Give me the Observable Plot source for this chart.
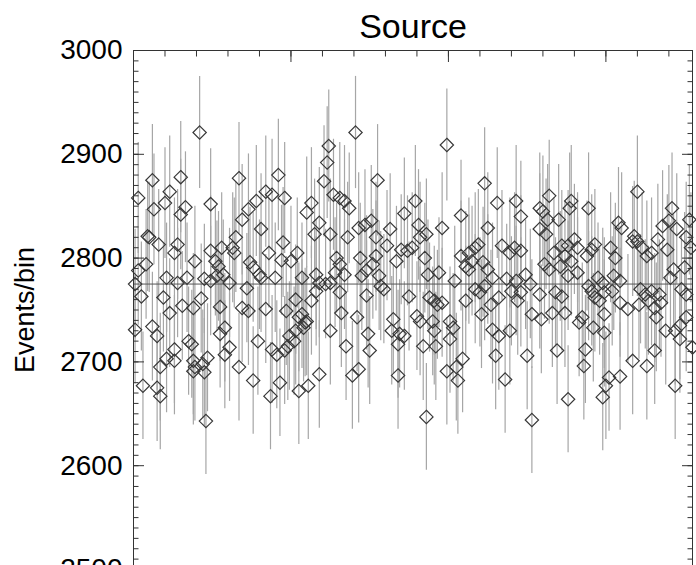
<!DOCTYPE html>
<html>
<head>
<meta charset="utf-8">
<script src="https://cdn.jsdelivr.net/npm/d3@7"></script>
<script src="https://cdn.jsdelivr.net/npm/@observablehq/plot@0.6"></script>
<style>
  html, body { margin: 0; padding: 0; background: #fff; overflow: hidden; }
</style>
</head>
<body>
<div id="chart"></div>
<script>
// Light curve of the source region: counts per time bin with Poisson errors.
const title = "Source";
const yLabel = "Events/bin";

// Bin number of each measurement
const bins = [
  1, 1, 3, 3, 5, 6, 8, 9, 10, 12,
  12, 13, 15, 15, 16, 17, 17, 19, 20, 21,
  21, 23, 23, 26, 26, 26, 28, 28, 30, 30,
  31, 33, 34, 35, 37, 38, 38, 38, 39, 39,
  42, 43, 44, 45, 45, 46, 47, 49, 49, 49,
  52, 53, 54, 55, 55, 56, 57, 58, 58, 61,
  61, 63, 64, 65, 67, 67, 69, 69,
  72, 73, 73, 74, 76, 76, 78, 79, 80, 81,
  81, 84, 84, 86, 87, 88, 88, 90, 91, 92,
  93, 94, 95, 96, 96, 97, 98, 99, 100, 102,
  103, 103, 104, 105, 105, 107, 107, 108, 109, 110,
  110, 111, 113, 113, 115, 116, 116, 118, 118, 118,
  121, 122, 123, 124, 125, 125, 125, 127, 128, 129,
  131, 131, 131, 132, 134, 134, 135, 136, 137, 139,
  141, 142, 143, 143, 144, 145, 147, 148, 148, 149,
  150, 151, 152, 154, 154, 155, 156, 157, 159, 161,
  163, 164, 165, 167, 168, 168, 169, 170, 172, 172,
  174, 175, 177, 179, 180, 181, 182, 182, 184, 185,
  186, 186, 187, 188, 190, 191, 191, 192, 193, 194,
  196, 196, 199, 199, 201, 201, 203, 204, 205, 206,
  208, 208, 209, 211, 211, 213, 213, 215, 217, 217,
  219, 220, 221, 222, 223, 223, 225, 225, 227, 228,
  228, 230, 231, 232, 232, 234, 236, 237, 239, 239,
  240, 242, 243, 243, 244, 246, 246, 246, 249, 250,
  252, 253, 253,
  258, 258, 258, 259, 260, 261, 262, 263, 264, 264,
  266, 267, 268, 269, 270, 271, 272, 272, 274, 274,
  276, 276, 276, 277, 278, 278, 280, 282, 282, 283,
  285, 286, 287, 288, 289, 289, 291, 291, 292, 293,
  293, 295, 296, 298, 298, 299, 299, 299, 300, 302,
  303, 304, 305, 306, 308, 309, 309, 309, 310, 314,
  317, 317, 318, 320, 320, 321, 322, 323, 325, 326,
  326, 327, 329, 329, 331, 331, 332, 333, 334, 335,
  336, 338, 339, 340, 341, 342, 343, 344, 344, 345,
  347, 347, 348, 350, 351, 351, 351, 353, 354, 355
];

// Events counted in each bin (same order as bins)
const counts = [
  2775, 2731, 2858, 2788, 2763, 2677, 2794, 2821, 2820, 2875,
  2734, 2847, 2725, 2675, 2813, 2695, 2667, 2762, 2853, 2781,
  2703, 2864, 2747, 2805, 2712, 2701, 2813, 2776, 2878, 2842,
  2754, 2849, 2781, 2720, 2717, 2752, 2701, 2691, 2797, 2695,
  2921, 2761, 2698, 2780, 2690, 2643, 2704, 2852, 2807, 2778,
  2797, 2783, 2792, 2753, 2727, 2810, 2784, 2733, 2707, 2776,
  2714, 2810, 2805, 2820, 2877, 2695, 2837, 2752,
  2771, 2749, 2847, 2796, 2791, 2682, 2855, 2720, 2784, 2828,
  2781, 2864, 2751, 2805, 2667, 2861, 2712, 2781, 2707, 2880,
  2680, 2798, 2815, 2858, 2711, 2749, 2715, 2725, 2797, 2720,
  2760, 2730, 2805, 2743, 2672, 2781, 2746, 2733, 2738, 2844,
  2739, 2677, 2853, 2759, 2823, 2784, 2768, 2834, 2776, 2688,
  2874, 2775, 2892, 2908, 2823, 2776, 2730, 2861, 2786, 2800,
  2858, 2794, 2767, 2747, 2855, 2784, 2715, 2820, 2848, 2687,
  2921, 2743, 2829, 2693, 2800, 2783, 2832, 2788, 2764, 2727,
  2711, 2836, 2794, 2820, 2802, 2875, 2783, 2773, 2770, 2812,
  2828, 2730, 2741, 2797, 2717, 2687, 2727, 2808, 2843, 2725,
  2807, 2763, 2810, 2855, 2744, 2832, 2820, 2739, 2715, 2800,
  2823, 2647, 2784, 2762, 2739, 2759, 2730, 2715, 2755, 2786,
  2829, 2757, 2909, 2691, 2739, 2722, 2733, 2778, 2695, 2682,
  2841, 2802, 2703, 2792, 2759, 2805, 2789, 2797, 2810, 2770,
  2813, 2767, 2746, 2796, 2872, 2773, 2829, 2789, 2755, 2781,
  2731, 2706, 2853, 2762, 2725, 2812, 2683, 2780, 2805, 2730,
  2768, 2810, 2855, 2778, 2759, 2840, 2807, 2767, 2784, 2706,
  2775, 2746, 2644,
  2848, 2828, 2765, 2741, 2845, 2794, 2823, 2837, 2860, 2789,
  2747, 2805, 2767, 2711, 2837, 2792, 2812, 2763, 2802, 2747,
  2812, 2783, 2664, 2848, 2855, 2797, 2818, 2810, 2786, 2738,
  2743, 2696, 2712, 2802, 2848, 2773, 2808, 2768, 2733, 2813,
  2762, 2781, 2759, 2776, 2666, 2767, 2746, 2728, 2677, 2685,
  2810, 2768, 2783, 2800, 2834, 2778, 2757, 2686, 2829, 2751,
  2701, 2816, 2821, 2864, 2816, 2755, 2770, 2810, 2765, 2802,
  2696, 2759, 2805, 2768, 2752, 2711, 2743, 2818, 2765, 2757,
  2831, 2730, 2808, 2836, 2781, 2848, 2789, 2730, 2677, 2828,
  2735, 2722, 2770, 2791, 2820, 2765, 2743, 2837, 2810, 2714
];

// Mean level of the light curve
const meanLevel = 2775;

// Axis ticks
const binRange = [0, 355];
const yRange = [2500, 3000];
const yMajor = d3.range(2500, 3001, 100);
const yMinor = d3.range(2500, 3001, 10);
const xMajor = d3.range(0, 356, 100);
const xMinor = d3.range(0, 356, 20);

const rows = bins.map((b, i) => ({
  bin: b,
  n: counts[i],
  lo: counts[i] - Math.sqrt(counts[i]),
  hi: counts[i] + Math.sqrt(counts[i])
}));

const font = "'Liberation Sans', Arial, Helvetica, sans-serif";
const axisColor = "#333";

const chart = Plot.plot({
  width: 696,
  height: 600,
  marginLeft: 133,
  marginRight: 4,
  marginTop: 50,
  marginBottom: 31,
  style: { fontFamily: font, background: "#fff", color: "#000" },
  x: { domain: binRange, axis: null },
  y: { domain: yRange, axis: null },
  marks: [
    // Poisson error bars
    Plot.ruleX(rows, { x: "bin", y1: "lo", y2: "hi", stroke: "#a6a6a6", strokeWidth: 1.2 }),
    // mean level
    Plot.ruleY([meanLevel], { stroke: "#555", strokeWidth: 1 }),
    // measurements
    Plot.dot(rows, { x: "bin", y: "n", symbol: "diamond2", r: 6, stroke: "#383838", strokeWidth: 1.2, fill: "none" }),
    // frame and inward-pointing ticks on left, right and top
    Plot.frame({ stroke: axisColor, strokeWidth: 1 }),
    Plot.axisY(yMinor, { anchor: "left", tickSize: -5.5, fill: "none", label: null, stroke: axisColor }),
    Plot.axisY(yMajor, { anchor: "left", tickSize: -11, fill: "none", label: null, stroke: axisColor }),
    Plot.axisY(yMinor, { anchor: "right", tickSize: -5.5, fill: "none", label: null, stroke: axisColor }),
    Plot.axisY(yMajor, { anchor: "right", tickSize: -11, fill: "none", label: null, stroke: axisColor }),
    Plot.axisX(xMinor, { anchor: "top", tickSize: -5.5, fill: "none", label: null, stroke: axisColor }),
    Plot.axisX(xMajor, { anchor: "top", tickSize: -11, fill: "none", label: null, stroke: axisColor }),
    // tick labels
    Plot.axisY(yMajor, { anchor: "left", tickSize: 0, tickPadding: 11, label: null, fontSize: 28, fill: "#000", tickFormat: d => String(d) }),
    // title and axis label
    Plot.text([title], { frameAnchor: "top", lineAnchor: "middle", dy: -23, fontSize: 34, fill: "#000" }),
    Plot.text([yLabel], { frameAnchor: "left", textAnchor: "middle", lineAnchor: "middle", dx: -108, rotate: -90, fontSize: 27, fill: "#000" })
  ]
});

document.getElementById("chart").appendChild(chart);
</script>
</body>
</html>
